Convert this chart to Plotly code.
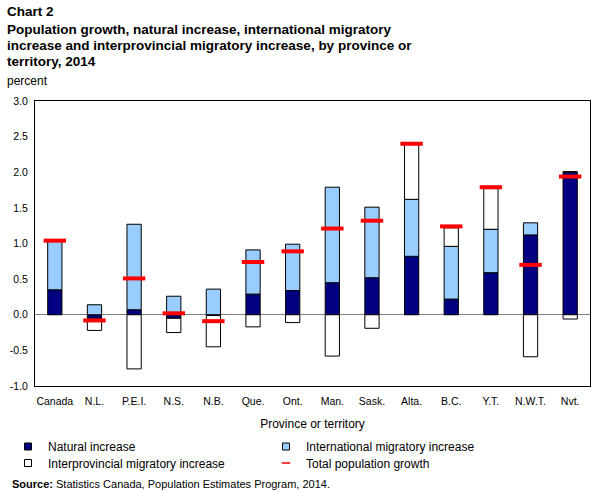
import plotly.graph_objects as go

categories = ["Canada", "N.L.", "P.E.I.", "N.S.", "N.B.", "Que.", "Ont.", "Man.",
              "Sask.", "Alta.", "B.C.", "Y.T.", "N.W.T.", "Nvt."]
natural = [0.35, -0.05, 0.07, -0.05, -0.01, 0.29, 0.34, 0.45, 0.52, 0.82, 0.22, 0.59, 1.12, 2.00]
international = [0.68, 0.14, 1.20, 0.26, 0.36, 0.62, 0.65, 1.34, 0.99, 0.80, 0.74, 0.61, 0.17, 0.01]
interprovincial = [0.00, -0.17, -0.76, -0.20, -0.44, -0.17, -0.11, -0.58, -0.19, 0.78, 0.26, 0.57, -0.59, -0.06]
total = [1.04, -0.08, 0.51, 0.02, -0.09, 0.74, 0.89, 1.21, 1.32, 2.40, 1.24, 1.79, 0.70, 1.94]
y_ticks = [-1.0, -0.5, 0.0, 0.5, 1.0, 1.5, 2.0, 2.5, 3.0]

FONT = "Liberation Sans"
W, H = 607, 493
L, R, T, B = 35, 17, 101, 107
PW, PH = W - L - R, H - T - B

NAVY, LIGHT, WHITE, RED = "#000080", "#99CCFF", "white", "#FF0000"


def px(x):
    return (x - L) / PW


def py(y):
    return (H - B - y) / PH


fig = go.Figure()
bw = 0.36
fig.add_trace(go.Bar(x=categories, y=natural, name="Natural increase", width=bw, showlegend=False,
                     marker=dict(color=NAVY, line=dict(color="black", width=1))))
fig.add_trace(go.Bar(x=categories, y=international, name="International migratory increase", width=bw,
                     showlegend=False,
                     marker=dict(color=LIGHT, line=dict(color="black", width=1))))
fig.add_trace(go.Bar(x=categories, y=interprovincial, name="Interprovincial migratory increase", width=bw,
                     showlegend=False,
                     marker=dict(color=WHITE, line=dict(color="black", width=1))))
fig.add_trace(go.Scatter(x=categories, y=total, name="Total population growth", mode="markers",
                         showlegend=False,
                         marker=dict(symbol="line-ew", size=16, color=RED,
                                     line=dict(color=RED, width=4))))

# legend entries (small symbols like the original)
for name, col, leg in [("Natural increase", NAVY, "legend"),
                       ("International migratory increase", LIGHT, "legend"),
                       ("Interprovincial migratory increase", WHITE, "legend2")]:
    fig.add_trace(go.Scatter(x=[None], y=[None], mode="markers", name=name, legend=leg,
                             marker=dict(symbol="square", size=7, color=col,
                                         line=dict(color="black", width=1))))
fig.add_trace(go.Scatter(x=[None], y=[None], mode="markers", name="Total population growth",
                         legend="legend2",
                         marker=dict(symbol="line-ew", size=6, color=RED,
                                     line=dict(color=RED, width=1.5))))

annotations = []
title_lines = ["Chart 2",
               "Population growth, natural increase, international migratory",
               "increase and interprovincial migratory increase, by province or",
               "territory, 2014"]
title_y = [12, 29, 45, 61]
for t, yy in zip(title_lines, title_y):
    annotations.append(dict(text="<b>" + t + "</b>", x=px(5), y=py(yy), xref="paper", yref="paper",
                            xanchor="left", yanchor="middle", showarrow=False,
                            font=dict(family=FONT, size=13.5, color="black")))
annotations.append(dict(text="percent", x=px(5), y=py(81), xref="paper", yref="paper",
                        xanchor="left", yanchor="middle", showarrow=False,
                        font=dict(family=FONT, size=12, color="black")))
annotations.append(dict(text="<b>Source:</b> Statistics Canada, Population Estimates Program, 2014.",
                        x=px(10), y=py(484), xref="paper", yref="paper",
                        xanchor="left", yanchor="middle", showarrow=False,
                        font=dict(family=FONT, size=11, color="black")))

leg_common = dict(orientation="h", xref="container", yref="container",
                  x=8 / W, xanchor="left", yanchor="middle",
                  entrywidth=213, font=dict(family=FONT, size=12), itemwidth=30,
                  bgcolor="rgba(0,0,0,0)", traceorder="normal")

fig.update_layout(
    width=W, height=H,
    margin=dict(l=L, r=R, t=T, b=B, autoexpand=False),
    paper_bgcolor="white", plot_bgcolor="white",
    barmode="relative",
    font=dict(family=FONT, size=12, color="black"),
    annotations=annotations,
    legend=dict(y=1 - 446.5 / H, **leg_common),
    legend2=dict(y=1 - 463 / H, **leg_common),
    xaxis=dict(type="category", range=[-0.5, len(categories) - 0.5],
               showline=True, linecolor="black", linewidth=1, mirror=True,
               showgrid=False, ticks="", ticklabelstandoff=5, tickfont=dict(family=FONT, size=10.5),
               title=dict(text="Province or territory", font=dict(family=FONT, size=12), standoff=14)),
    yaxis=dict(range=[-1, 3], tickvals=y_ticks, ticktext=[f"{v:.1f}" for v in y_ticks],
               showline=True, linecolor="black", linewidth=1, mirror=True,
               showgrid=False, zeroline=True, zerolinecolor="#808080", zerolinewidth=1,
               ticks="", ticklabelstandoff=4, tickfont=dict(family=FONT, size=10.5)),
    showlegend=True,
)

fig.write_html("out.html")
